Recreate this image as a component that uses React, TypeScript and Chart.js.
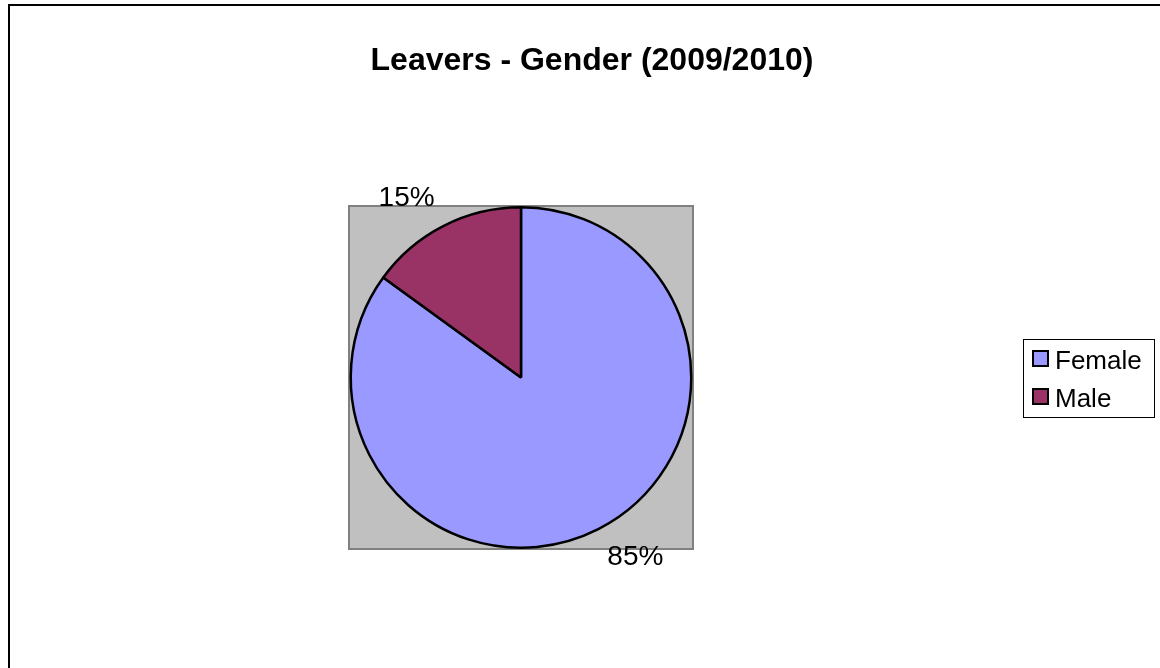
import React, { useEffect, useRef } from "react";
import { Chart, registerables } from "chart.js";

Chart.register(...registerables);

const TITLE = "Leavers - Gender (2009/2010)";
const categories = ["Female", "Male"];
const values = [85, 15];
const colors = ["#9999FF", "#993366"];
const percentLabels = ["85%", "15%"];

const FONT = '"Liberation Sans", Arial, sans-serif';

const decorPlugin = {
  id: "decor",
  beforeDraw(chart: any) {
    const { ctx, chartArea } = chart;
    ctx.save();
    ctx.fillStyle = "#ffffff";
    ctx.fillRect(0, 0, chart.width, chart.height);
    // outer frame
    ctx.strokeStyle = "#000000";
    ctx.lineWidth = 2;
    ctx.beginPath();
    ctx.moveTo(9, chart.height + 10);
    ctx.lineTo(9, 5);
    ctx.lineTo(chart.width + 10, 5);
    ctx.stroke();
    // plot area
    ctx.fillStyle = "#C0C0C0";
    ctx.fillRect(chartArea.left, chartArea.top, chartArea.right - chartArea.left, chartArea.bottom - chartArea.top);
    ctx.strokeStyle = "#808080";
    ctx.lineWidth = 2;
    ctx.strokeRect(chartArea.left, chartArea.top, chartArea.right - chartArea.left, chartArea.bottom - chartArea.top);
    // title
    ctx.fillStyle = "#000000";
    ctx.font = `bold 32px ${FONT}`;
    ctx.textAlign = "center";
    ctx.textBaseline = "middle";
    ctx.fillText(TITLE, 592, 61);
    ctx.restore();
  },
  afterDraw(chart: any) {
    const { ctx } = chart;
    const meta = chart.getDatasetMeta(0);
    ctx.save();
    ctx.fillStyle = "#000000";
    ctx.font = `28px ${FONT}`;
    meta.data.forEach((arc: any, i: number) => {
      const p = arc.getProps(["x", "y", "startAngle", "endAngle", "outerRadius"], true);
      const mid = (p.startAngle + p.endAngle) / 2;
      const d = p.outerRadius + 20;
      const x = p.x + Math.cos(mid) * d;
      const y = p.y + Math.sin(mid) * d;
      ctx.textAlign = Math.cos(mid) >= 0 ? "left" : "right";
      ctx.textBaseline = Math.sin(mid) >= 0 ? "top" : "bottom";
      ctx.fillText(percentLabels[i], x, y + (Math.sin(mid) >= 0 ? -4 : 4));
    });
    // legend
    const lx = 1023, ly = 339, lw = 131, lh = 78;
    ctx.strokeStyle = "#000000";
    ctx.lineWidth = 1;
    ctx.strokeRect(lx + 0.5, ly + 0.5, lw, lh);
    ctx.font = `26px ${FONT}`;
    ctx.textAlign = "left";
    ctx.textBaseline = "alphabetic";
    categories.forEach((c, i) => {
      const sy = 351 + i * 38;
      ctx.fillStyle = colors[i];
      ctx.fillRect(1033, sy, 15, 15);
      ctx.strokeStyle = "#000000";
      ctx.lineWidth = 2;
      ctx.strokeRect(1033, sy, 15, 15);
      ctx.fillStyle = "#000000";
      ctx.fillText(c, 1055, 369 + i * 38);
    });
    ctx.restore();
  },
};

export default function App() {
  const ref = useRef<HTMLCanvasElement>(null);
  useEffect(() => {
    if (!ref.current) return;
    const chart = new Chart(ref.current, {
      type: "pie",
      data: {
        labels: categories,
        datasets: [
          {
            data: values,
            backgroundColor: colors,
            borderColor: "#000000",
            borderWidth: 2.5,
          },
        ],
      },
      options: {
        animation: false,
        responsive: false,
        maintainAspectRatio: false,
        layout: { padding: { left: 349, right: 467, top: 206, bottom: 119 } },
        plugins: {
          legend: { display: false },
          title: { display: false },
          tooltip: { enabled: false },
        },
      },
      plugins: [decorPlugin],
    });
    return () => chart.destroy();
  }, []);
  return (
    <div style={{ position: "absolute", left: 0, top: 0, width: 1160, height: 668 }}>
      <canvas ref={ref} width={1160} height={668} style={{ display: "block" }} />
    </div>
  );
}
